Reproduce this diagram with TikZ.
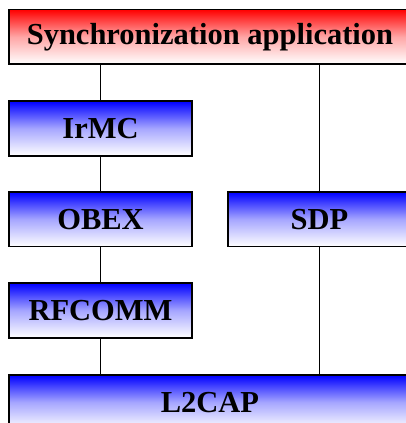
\documentclass[tikz,border=0pt]{standalone}
\usepackage{fontspec}
\setmainfont{Liberation Serif}
\usepackage{xcolor}

\tikzset{
  layer/.style={draw, line width=1.8pt, top color=blue, bottom color=white,
    middle color=blue!35!white,
    minimum width=183pt, minimum height=54.5pt, inner sep=0pt,
    font=\fontsize{30.5}{33}\selectfont\bfseries},
  app/.style={layer, top color=red, middle color=red!35!white, minimum width=402pt},
  wide/.style={layer, minimum width=402pt},
  link/.style={line width=1.6pt}
}

\begin{document}
\begin{tikzpicture}[x=1pt, y=-1pt]

        \clip (0,0) rectangle (406,423);

                % Nodes
                \node[app]    (sync)   at (210, 36.75)  {Synchronization application};
                \node[layer]  (irmc)   at (100.5, 128.4) {IrMC};
                \node[layer]  (obex)   at (100.5, 219.3) {OBEX};
                \node[layer]  (sdp)    at (319.5, 219.3) {SDP};
                \node[layer]  (rfcomm) at (100.5, 310.5) {RFCOMM};
                \node[wide]   (l2cap)  at (210, 402.3)  {L2CAP};

                % Edges
                \draw[link] (irmc.north) -- (irmc.north |- sync.south);
                \draw[link] (irmc) -- (obex);
                \draw[link] (obex) -- (rfcomm);
                \draw[link] (rfcomm.south) -- (rfcomm.south |- l2cap.north);
                \draw[link] (sdp.north) -- (sdp.north |- sync.south);
                \draw[link] (sdp.south) -- (sdp.south |- l2cap.north);

\end{tikzpicture}
\end{document}
